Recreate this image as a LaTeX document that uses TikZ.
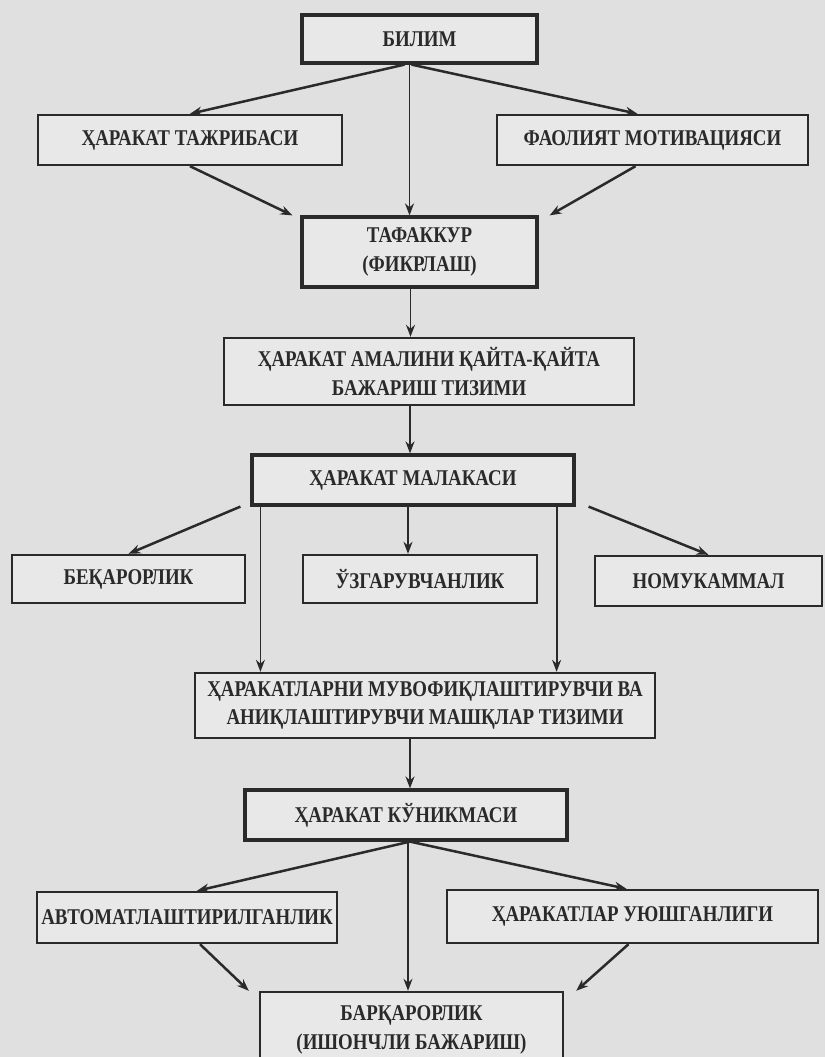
\documentclass[tikz,border=0pt]{standalone}
\usepackage{fontspec}
\setmainfont{Liberation Serif}[FakeStretch=0.84]
\usetikzlibrary{arrows.meta}
\definecolor{paper}{gray}{0.88}
\definecolor{boxfill}{gray}{0.91}
\definecolor{ink}{HTML}{2A2A2A}
\tikzset{
  box/.style={draw=ink, line width=2.4pt, fill=boxfill, text=ink,
    font=\bfseries\fontsize{22.5}{28.5}\selectfont, align=center, inner sep=0pt},
  thickbox/.style={box, line width=3.2pt},
  arr/.style={draw=ink, line width=1.8pt, -{Stealth[length=12pt,width=9pt]}},
  darr/.style={arr, line width=2.5pt},
}
\begin{document}
\begin{tikzpicture}[x=1pt,y=-1pt]
\fill[paper] (0,0) rectangle (825,1057);
\useasboundingbox (0,0) rectangle (825,1057);

\node[thickbox, minimum width=235pt, minimum height=48pt] (bilim) at (419.5,39) {БИЛИМ};
\node[box, minimum width=304pt, minimum height=50pt] (tajr) at (190,140) {ҲАРАКАТ ТАЖРИБАСИ};
\node[box, minimum width=311pt, minimum height=50pt] (motiv) at (652.5,140) {ФАОЛИЯТ МОТИВАЦИЯСИ};
\node[thickbox, minimum width=235pt, minimum height=70pt] (tafakkur) at (419.5,252) {ТАФАККУР\\(ФИКРЛАШ)};
\node[box, minimum width=410pt, minimum height=67pt] (amal) at (429,371.5) {ҲАРАКАТ АМАЛИНИ ҚАЙТА-ҚАЙТА\\БАЖАРИШ ТИЗИМИ};
\node[thickbox, minimum width=322pt, minimum height=50pt] (malaka) at (413,480) {ҲАРАКАТ МАЛАКАСИ};
\node[box, minimum width=233pt, minimum height=48pt] (bekaror) at (128.5,579) {БЕҚАРОРЛИК};
\node[box, minimum width=234pt, minimum height=48pt] (uzgar) at (420,579) {ЎЗГАРУВЧАНЛИК};
\node[box, minimum width=227pt, minimum height=50pt] (nomuk) at (708.5,581) {НОМУКАММАЛ};
\node[box, minimum width=460pt, minimum height=65pt] (muvof) at (425,705.5) {ҲАРАКАТЛАРНИ МУВОФИҚЛАШТИРУВЧИ ВА\\АНИҚЛАШТИРУВЧИ МАШҚЛАР ТИЗИМИ};
\node[thickbox, minimum width=322pt, minimum height=50pt] (kunikma) at (406,815) {ҲАРАКАТ КЎНИКМАСИ};
\node[box, minimum width=300pt, minimum height=51pt] (avtomat) at (187,917.5) {АВТОМАТЛАШТИРИЛГАНЛИК};
\node[box, minimum width=371pt, minimum height=53pt] (uyush) at (632.5,916.5) {ҲАРАКАТЛАР УЮШГАНЛИГИ};
\node[box, minimum width=303pt, minimum height=76pt] (barqaror) at (411.5,1030) {БАРҚАРОРЛИК\\(ИШОНЧЛИ БАЖАРИШ)};

% level 1
\draw[darr] ([xshift=-15pt]bilim.south) -- (tajr.north);
\draw[darr] ([xshift=-8pt]bilim.south) -- ([xshift=-15pt]motiv.north);
\draw[arr] ([xshift=-10pt]bilim.south) -- ([xshift=-10pt]bilim.south |- tafakkur.north);
\draw[darr] (tajr.south) -- ([xshift=-8pt]tafakkur.north west);
\draw[darr] ([xshift=-17pt]motiv.south) -- ([xshift=11pt]tafakkur.north east);
% level 2
\draw[arr] ([xshift=-9pt]tafakkur.south) -- ([xshift=-9pt]tafakkur.south |- amal.north);
\draw[arr] ([xshift=-3pt]malaka.north |- amal.south) -- ([xshift=-3pt]malaka.north);
% level 3
\draw[darr] ([xshift=-10pt]malaka.south west) -- (bekaror.north);
\draw[arr] ([xshift=-5pt]malaka.south) -- ([xshift=-5pt]malaka.south |- uzgar.north);
\draw[arr] ([xshift=10pt]malaka.south west) -- ([xshift=10pt]malaka.south west |- muvof.north);
\draw[arr] ([xshift=-19pt]malaka.south east) -- ([xshift=-19pt]malaka.south east |- muvof.north);
\draw[darr] ([xshift=13pt]malaka.south east) -- (nomuk.north);
% level 4
\draw[arr] ([xshift=4pt]kunikma.north |- muvof.south) -- ([xshift=4pt]kunikma.north);
\draw[darr] ([xshift=4pt]kunikma.south) -- ([xshift=10pt]avtomat.north);
\draw[darr] ([xshift=4pt]kunikma.south) -- ([xshift=-6pt]uyush.north);
\draw[arr] ([xshift=2pt]kunikma.south) -- ([xshift=2pt]kunikma.south |- barqaror.north);
\draw[darr] ([xshift=13pt]avtomat.south) -- ([xshift=-10pt]barqaror.north west);
\draw[darr] ([xshift=-4pt]uyush.south) -- ([xshift=12pt]barqaror.north east);
\end{tikzpicture}
\end{document}
